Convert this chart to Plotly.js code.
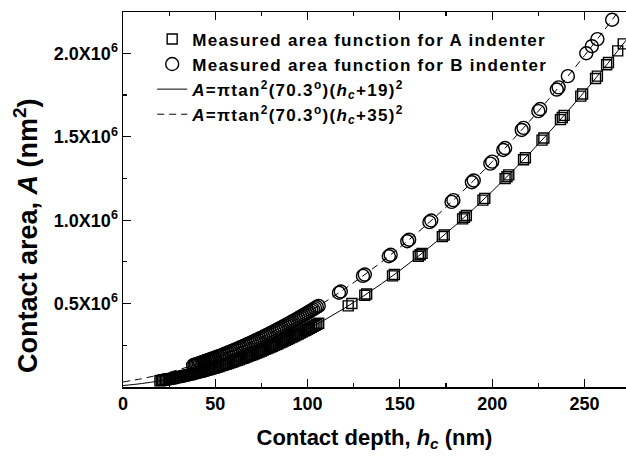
<!DOCTYPE html>
<html>
<head>
<meta charset="utf-8">
<script src="https://cdn.plot.ly/plotly-3.0.1.min.js"></script>
<style>html,body{margin:0;padding:0;background:#fff}#chart{width:626px;height:457px}
.legendtext{letter-spacing:1.3px}</style>
</head>
<body>
<div id="chart"></div>
<script>
// Measured area function, A indenter (squares)
var hA = [20, 20.75, 21.5, 22.25, 23, 23.75, 24.5, 25.25, 26, 26.75, 27.5, 28.25, 29, 29.75, 30.5, 31.25, 32, 32.75, 33.5, 34.25,
  35, 35.75, 36.5, 37.25, 38, 38.75, 39.5, 40.25, 41, 41.75, 42.5, 43.25, 44, 44.75, 45.5, 46.25, 47, 47.75, 48.5, 49.25,
  50, 51, 52, 53, 54, 55, 56, 57, 58, 59, 60, 61, 62, 63, 64, 65, 66, 67, 68, 69, 70, 71, 72, 73, 74, 75, 76, 77, 78, 79,
  80, 81, 82, 83, 84, 85, 86, 87, 88, 89, 90, 91, 92, 93, 94, 95, 96, 97, 98, 99, 100, 101, 102, 103, 104, 105, 106,
  122, 124, 131, 132, 146, 147, 160, 161, 162, 173, 174, 184, 185, 186, 195, 196, 207, 208, 209, 217, 218,
  227, 228, 237, 238, 239, 248, 249, 256, 257, 262, 263, 268, 271];
var areaA = [37200, 38650, 40100, 41600, 43200, 44700, 46300, 47900, 49500, 51200, 52900, 54600, 56400, 58100, 59900, 61800, 63600, 65500, 67400, 69400,
  71300, 73300, 75300, 77400, 79500, 81600, 83700, 85900, 88100, 90300, 92500, 94800, 97100, 99400, 101800, 104100, 106500, 109000, 111400, 113900,
  116500, 119900, 123300, 126800, 130300, 133900, 137600, 141300, 145000, 148800, 152700, 156500, 160500, 164500, 168500, 172600, 176700, 180900, 185100, 189400,
  193700, 198100, 202600, 207000, 211600, 216100, 220800, 225400, 230100, 234900,
  239700, 244600, 249500, 254500, 259500, 264600, 269700, 274800, 280000, 285300, 290600, 296000, 301400, 306800, 312300, 317900, 323500, 329100, 334800, 340600,
  346400, 352200, 358100, 364100, 370100, 376100, 382200,
  486300, 500200, 550400, 557700, 665900, 674000, 783700, 792500, 801300, 901700, 911100, 1008000, 1017900, 1027900, 1120200, 1130700, 1249300, 1260400, 1271500, 1362300, 1373900,
  1480200, 1492300, 1603000, 1615600, 1628200, 1743700, 1756800, 1849800, 1863300, 1931400, 1945200, 2014700, 2057100];

// Measured area function, B indenter (circles)
var hB = [38, 38.75, 39.5, 40.25, 41, 41.75, 42.5, 43.25, 44, 44.75, 45.5, 46.25, 47, 47.75, 48.5, 49.25,
  50, 51, 52, 53, 54, 55, 56, 57, 58, 59, 60, 61, 62, 63, 64, 65, 66, 67, 68, 69, 70, 71, 72, 73, 74, 75, 76, 77, 78, 79,
  80, 81, 82, 83, 84, 85, 86, 87, 88, 89, 90, 91, 92, 93, 94, 95, 96, 97, 98, 99, 100, 101, 102, 103, 104, 105, 106,
  117, 118, 130, 131, 144, 145, 154, 155, 166, 167, 178, 179, 189, 190, 199, 200, 206, 207, 216, 217,
  225, 226, 235, 236, 241, 251, 254, 257, 265];
var areaB = [130300, 133000, 135800, 138500, 141300, 144100, 146900, 149800, 152700, 155600, 158500, 161500, 164500, 167500, 170500, 173600,
  176700, 180900, 185100, 189400, 193700, 198100, 202600, 207000, 211600, 216100, 220800, 225400, 230100, 234900, 239700, 244600, 249500, 254500, 259500, 264600,
  269700, 274800, 280000, 285300, 290600, 296000, 301400, 306800, 312300, 317900,
  323500, 329100, 334800, 340600, 346400, 352200, 358100, 364100, 370100, 376100, 382200, 388300, 394500, 400800, 407000, 413400, 419800, 426200, 432700, 439200,
  445800, 452400, 459100, 465800, 472600, 479400, 486300,
  565100, 572600, 665900, 674000, 783700, 792500, 873700, 883000, 988200, 998100, 1109700, 1120200, 1227300, 1238300, 1339300, 1350800, 1420700, 1432500, 1541000, 1553300,
  1653500, 1666200, 1783100, 1796400, 1863300, 2000700, 2042900, 2085600, 2201400];

// Fit curves
var hFit = [0, 10, 20, 30, 40, 50, 60, 70, 80, 90, 100, 110, 120, 130, 140, 150, 160, 170, 180, 190, 200, 210, 220, 230, 240, 250, 260, 270, 275];
var fit19 = [8830, 20570, 37200, 58730, 85150, 116450, 152650, 193750, 239730, 290610, 346380, 407040, 472590, 543040, 618370, 698600, 783720, 873740, 968640, 1068440, 1173130, 1282710, 1397180, 1516540, 1640800, 1769950, 1903990, 2042920, 2114230];
var fit35 = [29960, 49530, 73990, 103340, 137590, 176720, 220750, 269670, 323480, 382190, 445780, 514270, 587650, 665920, 749090, 837140, 930090, 1027930, 1130660, 1238290, 1350800, 1468210, 1590510, 1717700, 1849790, 1986760, 2128630, 2275390, 2349300];

var yTickVals = [500000, 1000000, 1500000, 2000000];
var yTickText = ['0.5X10<sup>6</sup>', '1.0X10<sup>6</sup>', '1.5X10<sup>6</sup>', '2.0X10<sup>6</sup>'];
var xTickVals = [0, 50, 100, 150, 200, 250];

var FONT = 'Liberation Sans, Arial, Helvetica, sans-serif';

var traces = [
  {x: hA, y: areaA, type: 'scatter', mode: 'markers', name: 'Measured area function for A indenter',
   marker: {symbol: 'square-open', size: 10, color: '#000', line: {width: 1.4, color: '#000'}}},
  {x: hB, y: areaB, type: 'scatter', mode: 'markers', name: 'Measured area function for B indenter',
   marker: {symbol: 'circle-open', size: 13, color: '#000', line: {width: 1.4, color: '#000'}}},
  {x: hFit, y: fit19, type: 'scatter', mode: 'lines', name: '<i>A</i>=πtan<sup>2</sup>(70.3<sup>o</sup>)(<i>h<sub>c</sub></i>+19)<sup>2</sup>',
   line: {color: '#000', width: 1, dash: 'solid', shape: 'spline'}},
  {x: hFit, y: fit35, type: 'scatter', mode: 'lines', name: '<i>A</i>=πtan<sup>2</sup>(70.3<sup>o</sup>)(<i>h<sub>c</sub></i>+35)<sup>2</sup>',
   line: {color: '#000', width: 1, dash: '7px,5px', shape: 'spline'}}
];

var layout = {
  width: 626, height: 457,
  margin: {l: 123, r: 0, t: 12, b: 70},
  paper_bgcolor: '#fff', plot_bgcolor: '#fff',
  font: {family: FONT, color: '#000', size: 16},
  showlegend: true,
  legend: {x: 0.058, y: 0.975, xanchor: 'left', yanchor: 'top', bgcolor: 'rgba(0,0,0,0)',
    font: {family: FONT, size: 17, color: '#000', weight: 'bold'}, tracegroupgap: 0, itemwidth: 30},
  xaxis: {
    range: [0, 272.5], tickvals: xTickVals, ticks: 'inside', ticklen: 8, tickwidth: 1.2, tickcolor: '#000',
    showline: true, linecolor: '#000', linewidth: 1.5, mirror: 'ticks', showgrid: false, zeroline: false,
    tickfont: {family: FONT, size: 18, color: '#000', weight: 'bold'},
    minor: {tickvals: [25, 75, 125, 175, 225], ticks: 'inside', ticklen: 4, tickwidth: 1.2, tickcolor: '#000', showgrid: false},
    title: {text: 'Contact depth, <i>h<sub>c</sub></i> (nm)', font: {family: FONT, size: 22, color: '#000', weight: 'bold'}, standoff: 16}
  },
  yaxis: {
    range: [0, 2248000], tickvals: yTickVals, ticktext: yTickText, ticks: 'inside', ticklen: 8, tickwidth: 1.2, tickcolor: '#000',
    showline: true, linecolor: '#000', linewidth: 1.5, showgrid: false, zeroline: false,
    tickfont: {family: FONT, size: 18, color: '#000', weight: 'bold'},
    minor: {tickvals: [250000, 750000, 1250000, 1750000], ticks: 'inside', ticklen: 4, tickwidth: 1.2, tickcolor: '#000', showgrid: false}
  },
  annotations: [{
    text: 'Contact area, <i>A</i> (nm<sup>2</sup>)', textangle: -90, showarrow: false,
    xref: 'paper', yref: 'paper', x: -0.193, y: 0.405, xanchor: 'center', yanchor: 'middle',
    font: {family: FONT, size: 27, color: '#000', weight: 'bold'}
  }]
};

Plotly.newPlot('chart', traces, layout, {displayModeBar: false, staticPlot: true});
</script>
</body>
</html>
